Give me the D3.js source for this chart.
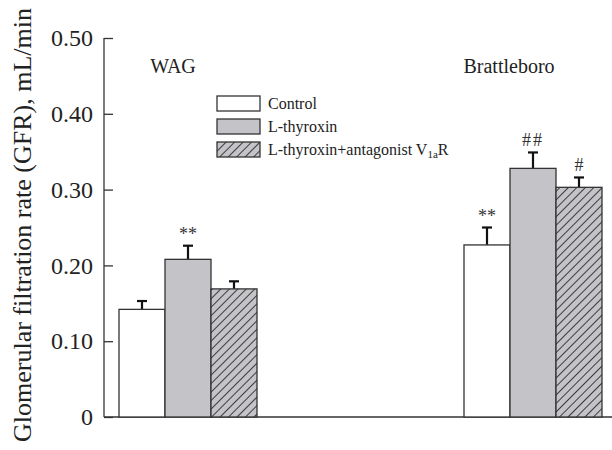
<!DOCTYPE html>
<html><head><meta charset="utf-8">
<script src="https://cdn.jsdelivr.net/npm/d3@7"></script>
<style>body{margin:0;background:#fff;}svg{display:block;font-family:"Liberation Serif","DejaVu Serif",serif;}</style>
</head><body><svg id="c" width="612" height="450"></svg>
<script>
const groups = ["WAG", "Brattleboro"];
const series = ["Control", "L-thyroxin", "L-thyroxin+antagonist V1aR"];
const means = [[0.142, 0.208, 0.169], [0.227, 0.328, 0.303]];
const errs = [[0.011, 0.018, 0.010], [0.023, 0.021, 0.013]];
const marks = [["", "**", ""], ["**", "##", "#"]];
const yTicks = [0, 0.1, 0.2, 0.3, 0.4, 0.5];
const yTickLabels = ["0", "0.10", "0.20", "0.30", "0.40", "0.50"];

const svg = d3.select("#c");
const y = d3.scaleLinear().domain([0, 0.5]).range([417, 38]);
const gx = d3.scalePoint().domain(groups).range([188, 533]);
const sx = d3.scaleBand().domain(series).range([-69, 69]);

const defs = svg.append("defs");
const pat = defs.append("pattern").attr("id", "hatch").attr("patternUnits", "userSpaceOnUse")
  .attr("width", 6).attr("height", 6).attr("patternTransform", "rotate(45)");
pat.append("rect").attr("width", 6).attr("height", 6).attr("fill", "#c4c4c8");
pat.append("line").attr("x1", 0).attr("y1", 0).attr("x2", 0).attr("y2", 6).attr("stroke", "#222").attr("stroke-width", 1.7);
const fills = ["#ffffff", "#c4c4c8", "url(#hatch)"];

// axes
const yAxis = d3.axisLeft(y).tickValues(yTicks).tickSize(-9).tickPadding(11)
  .tickFormat((d, i) => yTickLabels[i]);
const ya = svg.append("g").attr("transform", "translate(104,0)").call(yAxis);
ya.select(".domain").attr("stroke", "#333").attr("stroke-width", 1.3).attr("d", "M0,38V417");
ya.selectAll(".tick line").attr("stroke", "#333").attr("stroke-width", 1.3);
ya.selectAll(".tick text").attr("font-family", "Liberation Serif, serif").attr("font-size", 24).attr("fill", "#222");
svg.append("line").attr("x1", 104).attr("x2", 612).attr("y1", y(0)).attr("y2", y(0)).attr("stroke", "#333").attr("stroke-width", 1.5);

svg.append("text").attr("transform", "translate(31,225) rotate(-90)").attr("text-anchor", "middle")
  .attr("font-size", 26).attr("fill", "#222").text("Glomerular filtration rate (GFR), mL/min");

// bars
groups.forEach((g, gi) => {
  series.forEach((s, si) => {
    const x0 = gx(g) + sx(s);
    const w = sx.bandwidth();
    const v = means[gi][si], e = errs[gi][si];
    const cx = x0 + w / 2;
    svg.append("line").attr("x1", cx).attr("x2", cx).attr("y1", y(v)).attr("y2", y(v + e))
      .attr("stroke", "#111").attr("stroke-width", 2.2);
    svg.append("line").attr("x1", cx - 5).attr("x2", cx + 5).attr("y1", y(v + e)).attr("y2", y(v + e))
      .attr("stroke", "#111").attr("stroke-width", 2.2);
    svg.append("rect").attr("x", x0).attr("y", y(v)).attr("width", w).attr("height", y(0) - y(v))
      .attr("fill", fills[si]).attr("stroke", "#333").attr("stroke-width", 1.3);
    if (marks[gi][si]) {
      svg.append("text").attr("x", cx).attr("y", y(v + e) - 6).attr("text-anchor", "middle")
        .attr("font-size", 18).attr("letter-spacing", marks[gi][si] === "##" ? 2 : 0)
        .attr("fill", "#333").text(marks[gi][si]);
    }
  });
  svg.append("text").attr("x", gx(g) + (gi === 0 ? -15 : -24)).attr("y", 73).attr("text-anchor", "middle")
    .attr("font-size", 20).attr("fill", "#222").text(g);
});

// legend
const leg = svg.append("g").attr("transform", "translate(217,96)");
series.forEach((s, i) => {
  const r = leg.append("g").attr("transform", `translate(0,${i * 23})`);
  r.append("rect").attr("width", 43).attr("height", 15).attr("fill", fills[i]).attr("stroke", "#333").attr("stroke-width", 1.3);
  const t = r.append("text").attr("x", 51).attr("y", 13).attr("font-size", 16).attr("fill", "#222");
  if (i === 2) {
    t.append("tspan").text("L-thyroxin+antagonist V");
    t.append("tspan").attr("font-size", 11).attr("dy", 3).text("1a");
    t.append("tspan").attr("dy", -3).text("R");
  } else t.text(s);
});
</script></body></html>
